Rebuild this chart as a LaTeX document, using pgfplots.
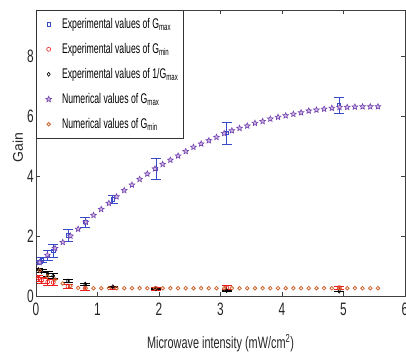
\documentclass[border=0pt]{standalone}
\usepackage{fontspec}
\setmainfont[FakeStretch=0.66]{Liberation Sans}
\newfontfamily\plainfont{Liberation Sans}
\newfontfamily\legfont[FakeStretch=0.62]{Liberation Sans}
\usepackage{pgfplots}
\pgfplotsset{compat=1.18}
\definecolor{gmaxexp}{RGB}{55,75,200}
\definecolor{gmaxnum}{RGB}{115,65,175}
\definecolor{gminexp}{RGB}{235,30,30}
\definecolor{gminnum}{RGB}{205,100,45}
\pgfdeclareplotmark{pstar}{%
  \pgfpathmoveto{\pgfpointpolar{90}{\pgfplotmarksize}}%
  \pgfpathlineto{\pgfpointpolar{126}{0.45\pgfplotmarksize}}%
  \pgfpathlineto{\pgfpointpolar{162}{\pgfplotmarksize}}%
  \pgfpathlineto{\pgfpointpolar{198}{0.45\pgfplotmarksize}}%
  \pgfpathlineto{\pgfpointpolar{234}{\pgfplotmarksize}}%
  \pgfpathlineto{\pgfpointpolar{270}{0.45\pgfplotmarksize}}%
  \pgfpathlineto{\pgfpointpolar{306}{\pgfplotmarksize}}%
  \pgfpathlineto{\pgfpointpolar{342}{0.45\pgfplotmarksize}}%
  \pgfpathlineto{\pgfpointpolar{18}{\pgfplotmarksize}}%
  \pgfpathlineto{\pgfpointpolar{54}{0.45\pgfplotmarksize}}%
  \pgfpathclose
  \pgfusepathqfillstroke}
\pgfplotstableread{
x y e
0.04 1.12 0.05
0.09 1.20 0.08
0.19 1.35 0.17
0.28 1.50 0.22
0.52 2.02 0.20
0.80 2.46 0.16
1.25 3.22 0.13
1.95 4.25 0.35
3.10 5.43 0.37
4.93 6.36 0.27
}\gmaxexp
\pgfplotstableread{
x y e
0.04 0.60 0.10
0.09 0.52 0.10
0.19 0.47 0.10
0.28 0.45 0.10
0.52 0.32 0.08
0.80 0.26 0.08
1.25 0.27 0.06
1.95 0.25 0.05
3.10 0.28 0.06
4.93 0.28 0.05
}\gminexp
\pgfplotstableread{
x y e
0.04 0.88 0.04
0.09 0.82 0.05
0.19 0.74 0.08
0.28 0.67 0.09
0.52 0.50 0.05
0.80 0.40 0.03
1.25 0.31 0.02
1.95 0.24 0.02
3.10 0.18 0.02
4.93 0.16 0.01
}\invgmax
\pgfplotstableread{
x gmax gmin
0.06 1.12 0.85
0.185 1.36 0.65
0.31 1.59 0.55
0.435 1.79 0.42
0.56 2.00 0.33
0.685 2.23 0.27
0.81 2.46 0.26
0.935 2.69 0.26
1.06 2.89 0.26
1.185 3.09 0.26
1.31 3.31 0.26
1.435 3.52 0.26
1.56 3.70 0.26
1.685 3.89 0.26
1.81 4.07 0.26
1.935 4.24 0.26
2.06 4.39 0.26
2.185 4.53 0.26
2.31 4.67 0.26
2.435 4.82 0.26
2.56 4.96 0.26
2.685 5.07 0.26
2.81 5.18 0.26
2.935 5.29 0.26
3.06 5.42 0.26
3.185 5.51 0.26
3.31 5.59 0.26
3.435 5.67 0.26
3.56 5.76 0.26
3.685 5.82 0.26
3.81 5.90 0.26
3.935 5.96 0.26
4.06 6.01 0.26
4.185 6.06 0.26
4.31 6.11 0.26
4.435 6.17 0.26
4.56 6.20 0.26
4.685 6.23 0.26
4.81 6.26 0.26
4.935 6.29 0.26
5.06 6.29 0.26
5.185 6.30 0.26
5.31 6.31 0.26
5.435 6.31 0.26
5.56 6.31 0.26
}\numer
\begin{document}
\begin{tikzpicture}[x=1pt,y=1pt]
\begin{axis}[
  at={(36pt,58pt)}, anchor=south west, scale only axis,
  width=369pt, height=286pt,
  xmin=0, xmax=6, ymin=0, ymax=9.53,
  xtick={0,1,2,3,4,5,6}, ytick={0,2,4,6,8},
  tick align=inside, major tick length=4pt,
  tick style={black!75, line width=0.6pt},
  axis line style={black!75, line width=0.6pt},
  /pgf/number format/assume math mode=true,
  ticklabel style={font=\fontsize{18}{18}\selectfont, text=black!85},
  yticklabel style={inner sep=2pt},
  xticklabel style={inner sep=7pt},
  xlabel={Microwave intensity (mW/cm\textsuperscript{2})},
  ylabel={Gain},
  xlabel style={font=\fontsize{16.5}{18}\selectfont, anchor=center, at={(axis description cs:0.5,-0.165)}, text=black!85},
  ylabel style={font=\plainfont\fontsize{14}{16}\selectfont, anchor=center, at={(axis description cs:-0.0488,0.52)}, text=black!85},
  legend style={at={(0,1)}, anchor=north west, draw=black!80, line width=0.6pt, fill=white,
    font=\legfont\fontsize{14}{16}\selectfont, row sep=5pt, inner sep=4pt,
    nodes={inner sep=1pt, text height=13pt, text depth=5pt}},
  legend cell align=left,
  legend image code/.code={\path (0pt,0pt) (20pt,0pt); \draw[#1] plot coordinates {(8pt,0pt)};},
]
\addplot[only marks, mark=square, mark size=1.6pt, gmaxexp, line width=0.6pt,
  error bars/.cd, y dir=both, y explicit,
  error bar style={gmaxexp, line width=0.8pt},
  error mark options={rotate=90, mark size=5pt, gmaxexp, line width=0.8pt}]
  table[x=x, y=y, y error=e] {\gmaxexp};
\addlegendentry{Experimental values of G\textsubscript{max}}
\addplot[only marks, mark=o, mark size=2pt, gminexp, line width=0.6pt,
  error bars/.cd, y dir=both, y explicit,
  error bar style={gminexp, line width=0.8pt},
  error mark options={rotate=90, mark size=5pt, gminexp, line width=0.8pt}]
  table[x=x, y=y, y error=e] {\gminexp};
\addlegendentry{Experimental values of G\textsubscript{min}}
\addplot[only marks, mark=diamond, mark size=2pt, black, line width=0.6pt,
  error bars/.cd, y dir=both, y explicit,
  error bar style={black, line width=0.8pt},
  error mark options={rotate=90, mark size=5pt, black, line width=0.8pt}]
  table[x=x, y=y, y error=e] {\invgmax};
\addlegendentry{Experimental values of 1/G\textsubscript{max}}
\addplot[only marks, mark=pstar, mark size=3pt, draw=gmaxnum, fill=gmaxnum!35, line width=0.6pt]
  table[x=x, y=gmax] {\numer};
\addlegendentry{Numerical values of G\textsubscript{max}}
\addplot[only marks, mark=o, mark size=1.8pt, gminnum, line width=0.8pt]
  table[x=x, y=gmin] {\numer};
\addlegendentry{Numerical values of G\textsubscript{min}}
\end{axis}
\pgfresetboundingbox
\path (0,0) rectangle (406,354);
\end{tikzpicture}
\end{document}
